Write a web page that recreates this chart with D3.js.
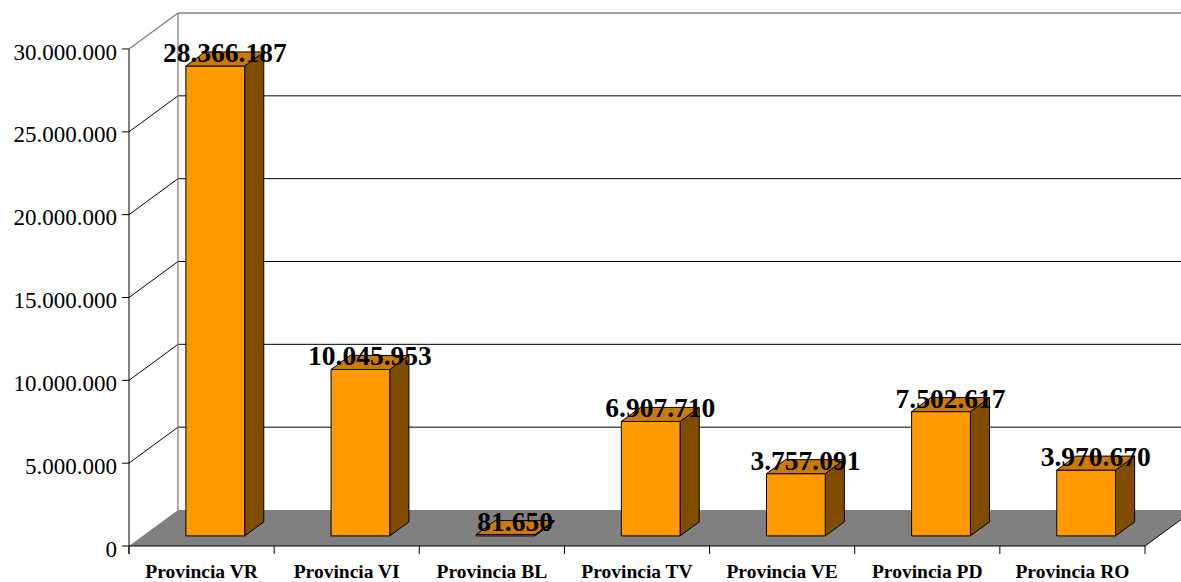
<!DOCTYPE html>
<html>
<head>
<meta charset="utf-8">
<script src="https://cdn.jsdelivr.net/npm/d3@7"></script>
<style>
  html, body { margin: 0; padding: 0; background: #fff; }
  svg { display: block; }
</style>
</head>
<body>
<svg id="chart" width="1181" height="582"></svg>
<script>
// Values per province
const categories = ["Provincia VR", "Provincia VI", "Provincia BL", "Provincia TV", "Provincia VE", "Provincia PD", "Provincia RO"];
const values = [28366187, 10045953, 81650, 6907710, 3757091, 7502617, 3970670];
const yTicks = [0, 5000000, 10000000, 15000000, 20000000, 25000000, 30000000];

// Italian-style number formatting (dot as thousands separator)
const locale = d3.formatLocale({ decimal: ",", thousands: ".", grouping: [3], currency: ["", " €"] });
const fmt = locale.format(",d");

const svg = d3.select("#chart");
const serif = "'Liberation Serif', 'Times New Roman', serif";

// Front plane scales
const x = d3.scaleBand().domain(categories).range([129, 1145]).padding(0);
const y = d3.scaleLinear().domain([0, 30000000]).range([546, 49]);

// Depth vector for the 3D projection (front -> back wall)
const DX = 49, DY = -36;
const t0 = 0.28, t1 = 0.67;      // bar front/back depth fractions
const barW = x.bandwidth() * 0.405;

const P = (px, py, t) => [px + DX * t, py + DY * t];
const poly = pts => "M" + pts.map(p => p.join(",")).join("L") + "Z";

const x0 = x.range()[0], x1 = x.range()[1];
const yTop = y(yTicks[yTicks.length - 1]);
const yBase = y(0);

// Back wall gridlines
svg.append("g").selectAll("line.grid")
  .data(yTicks.slice(1, -1))
  .join("line")
  .attr("x1", x0 + DX).attr("x2", x1 + DX)
  .attr("y1", d => y(d) + DY).attr("y2", d => y(d) + DY)
  .attr("stroke", "#000").attr("stroke-width", 1);

// Side wall gridlines
svg.append("g").selectAll("line.side")
  .data(yTicks.slice(1, -1))
  .join("line")
  .attr("x1", x0).attr("x2", x0 + DX)
  .attr("y1", d => y(d)).attr("y2", d => y(d) + DY)
  .attr("stroke", "#000").attr("stroke-width", 1);

// Wall edges
const wallEdge = svg.append("g").attr("stroke", "#808080").attr("fill", "none").attr("stroke-width", 1.3);
wallEdge.append("line").attr("x1", x0 + DX).attr("x2", x1 + DX).attr("y1", yTop + DY).attr("y2", yTop + DY);
wallEdge.append("line").attr("x1", x0).attr("x2", x0 + DX).attr("y1", yTop).attr("y2", yTop + DY);
wallEdge.append("line").attr("x1", x0 + DX).attr("x2", x0 + DX).attr("y1", yTop + DY).attr("y2", yBase + DY);

// Floor
svg.append("path")
  .attr("d", poly([[x0, yBase], P(x0, yBase, 1), P(x1, yBase, 1), [x1, yBase]]))
  .attr("fill", "#808080");
svg.append("line")
  .attr("x1", x1).attr("y1", yBase)
  .attr("x2", x1 + DX).attr("y2", yBase + DY)
  .attr("stroke", "#000").attr("stroke-width", 1);

// Bars
const bars = svg.append("g").selectAll("g.bar")
  .data(categories.map((c, i) => ({ c, v: values[i] })))
  .join("g")
  .attr("stroke", "#000").attr("stroke-width", 1).attr("stroke-linejoin", "round");

bars.each(function(d) {
  const g = d3.select(this);
  const cx = x(d.c) + x.bandwidth() / 2;
  const L = cx - barW / 2, R = cx + barW / 2;
  const yt = y(d.v), yb = y(0);
  // side face
  g.append("path").attr("fill", "#7F4C00")
    .attr("d", poly([P(R, yt, t0), P(R, yt, t1), P(R, yb, t1), P(R, yb, t0)]));
  // front face
  g.append("path").attr("fill", "#FF9900")
    .attr("d", poly([P(L, yt, t0), P(R, yt, t0), P(R, yb, t0), P(L, yb, t0)]));
  // top face
  g.append("path").attr("fill", "#CC7A00")
    .attr("d", poly([P(L, yt, t0), P(R, yt, t0), P(R, yt, t1), P(L, yt, t1)]));
});

// Value labels
const tm = (t0 + t1) / 2;
svg.append("g").selectAll("text")
  .data(categories.map((c, i) => ({ c, v: values[i] })))
  .join("text")
  .attr("x", d => x(d.c) + x.bandwidth() / 2 + DX * tm)
  .attr("y", d => y(d.v) + DY * tm + 3)
  .attr("text-anchor", "middle")
  .attr("font-family", serif)
  .attr("font-weight", "bold")
  .attr("font-size", 27.5)
  .attr("fill", "#000")
  .text(d => fmt(d.v));

// Value axis (front)
const yAxis = svg.append("g");
yAxis.append("line").attr("x1", x0).attr("x2", x0).attr("y1", yTop).attr("y2", yBase + 8)
  .attr("stroke", "#000").attr("stroke-width", 1);
yAxis.selectAll("line.tick").data(yTicks).join("line")
  .attr("x1", x0 - 7).attr("x2", x0)
  .attr("y1", d => y(d)).attr("y2", d => y(d))
  .attr("stroke", "#000").attr("stroke-width", 1);
yAxis.selectAll("text").data(yTicks).join("text")
  .attr("x", 117).attr("y", d => y(d) + 10.5)
  .attr("text-anchor", "end")
  .attr("font-family", serif)
  .attr("font-size", 23)
  .attr("fill", "#000")
  .text(d => fmt(d));

// Category axis (front)
const xAxis = svg.append("g");
xAxis.append("line").attr("x1", x0).attr("x2", x1).attr("y1", yBase).attr("y2", yBase)
  .attr("stroke", "#000").attr("stroke-width", 1);
xAxis.selectAll("line.tick").data(categories.map(c => x(c)).concat([x1])).join("line")
  .attr("x1", d => d).attr("x2", d => d)
  .attr("y1", yBase).attr("y2", yBase + 8)
  .attr("stroke", "#000").attr("stroke-width", 1);
xAxis.selectAll("text").data(categories).join("text")
  .attr("x", d => x(d) + x.bandwidth() / 2)
  .attr("y", 578)
  .attr("text-anchor", "middle")
  .attr("font-family", serif)
  .attr("font-weight", "bold")
  .attr("font-size", 19.5)
  .attr("fill", "#000")
  .text(d => d);
</script>
</body>
</html>
